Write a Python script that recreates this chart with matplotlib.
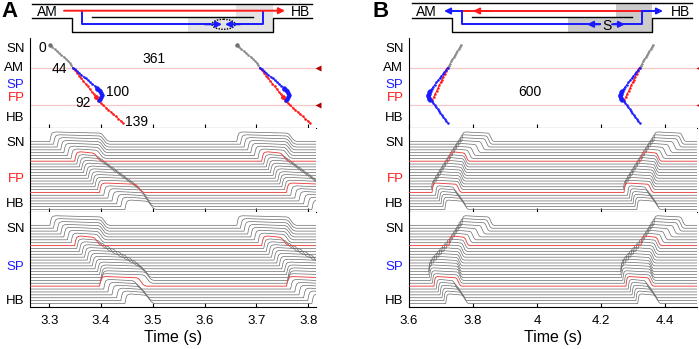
import numpy as np
import matplotlib.pyplot as plt
from matplotlib.patches import Ellipse, Polygon

plt.rcParams['font.family'] = ['Liberation Sans', 'DejaVu Sans']

# cycle lengths (s) written in the panels
cycle_a = 0.361
cycle_b = 0.600

# ---- activation maps (time in s, position along the path, 0 = top) ----
# panel A, first beat
gray_t_a = [3.3013, 3.3057, 3.3101, 3.3146, 3.3190, 3.3234, 3.3279, 3.3323, 3.3367, 3.3395, 3.3425, 3.3453]
gray_p_a = [7.3, 9.3, 11.2, 13.2, 15.2, 17.1, 19.1, 21.0, 23.0, 25.0, 27.3, 29.7]
red1_t_a = [3.3453, 3.3494, 3.3535, 3.3576, 3.3617, 3.3658, 3.3699, 3.3740, 3.3781, 3.3822, 3.3863, 3.3903]
red1_p_a = [29.7, 32.4, 35.0, 37.7, 40.4, 43.0, 45.7, 48.4, 51.0, 53.7, 56.3, 59.0]
red2_t_a = [3.3903, 3.3948, 3.3996, 3.4044, 3.4092, 3.4140, 3.4188, 3.4236, 3.4284, 3.4332, 3.4380, 3.4431]
red2_p_a = [59.0, 63.0, 65.2, 67.4, 69.6, 71.8, 74.0, 76.2, 78.4, 80.6, 82.8, 85.3]
blue1_t_a = [3.3453, 3.3495, 3.3537, 3.3579, 3.3621, 3.3663, 3.3705, 3.3747, 3.3789, 3.3831, 3.3873, 3.3917]
blue1_p_a = [29.7, 31.5, 33.3, 35.1, 36.9, 38.7, 40.5, 42.3, 44.1, 45.9, 47.8, 49.7]
blue2_t_a = [3.3917, 3.3929, 3.3955, 3.3981, 3.4000, 3.4013, 3.4006, 3.3981, 3.3961]
blue2_p_a = [49.7, 50.7, 52.0, 53.3, 55.3, 57.3, 59.0, 60.7, 62.0]

# panel B, first beat
gray_t_b = [3.7625, 3.7587, 3.7549, 3.7511, 3.7473, 3.7435, 3.7397, 3.7359, 3.7321, 3.7284, 3.7246, 3.7209]
gray_p_b = [7.0, 9.1, 11.1, 13.2, 15.3, 17.3, 19.4, 21.5, 23.5, 25.6, 27.6, 29.7]
red_t_b = [3.7190, 3.7150, 3.7110, 3.7070, 3.7030, 3.6990, 3.6947, 3.6903, 3.6860, 3.6816, 3.6773, 3.6729]
red_p_b = [30.5, 33.3, 36.1, 38.9, 41.7, 44.4, 47.3, 50.3, 53.2, 56.1, 59.1, 62.0]
blue1_t_b = [3.7209, 3.7159, 3.7109, 3.7059, 3.7009, 3.6959, 3.6909, 3.6859, 3.6809, 3.6759, 3.6709, 3.6656]
blue1_p_b = [29.7, 31.8, 33.9, 36.0, 38.1, 40.2, 42.4, 44.5, 46.6, 48.7, 50.8, 53.0]
blue2_t_b = [3.6656, 3.6640, 3.6620, 3.6606, 3.6604, 3.6615, 3.6640, 3.6670]
blue2_p_b = [53.0, 54.3, 55.7, 57.0, 58.3, 59.7, 61.0, 62.3]
blue3_t_b = [3.6670, 3.6710, 3.6755, 3.6800, 3.6846, 3.6891, 3.6937, 3.6982, 3.7028, 3.7073, 3.7119, 3.7164, 3.7209]
blue3_p_b = [62.3, 63.0, 65.0, 67.1, 69.1, 71.1, 73.2, 75.2, 77.2, 79.2, 81.3, 83.3, 85.3]

map_labels = ['SN', 'AM', 'SP', 'FP', 'HB']
map_label_pos = [9.7, 28.5, 45.0, 58.6, 78.5]
marker_lines = [30.0, 67.0]

# ---- electrograms: activation / repolarisation time of each trace (s) ----
fp_act_a = [3.301, 3.308, 3.315, 3.322, 3.328, 3.335, 3.342, 3.349, 3.353, 3.358, 3.362, 3.366, 3.371,
            3.375, 3.380, 3.384, 3.388, 3.393, 3.397, 3.405, 3.413, 3.421, 3.430, 3.438, 3.446]
fp_rep_a = [3.407, 3.406, 3.405, 3.404, 3.403, 3.401, 3.399, 3.393, 3.400, 3.408, 3.415, 3.422, 3.430,
            3.437, 3.445, 3.452, 3.460, 3.467, 3.474, 3.479, 3.483, 3.487, 3.490, 3.494, 3.497]
sp_act_a = [3.301, 3.308, 3.315, 3.322, 3.328, 3.335, 3.342, 3.349, 3.353, 3.358, 3.363, 3.368, 3.373, 3.378,
            3.383, 3.388, 3.393, 3.397, 3.400, 3.401, 3.398, 3.397, 3.405, 3.413, 3.421, 3.430, 3.438, 3.446]
sp_rep_a = [3.407, 3.406, 3.405, 3.404, 3.403, 3.401, 3.399, 3.393, 3.401, 3.410, 3.420, 3.431, 3.442, 3.452,
            3.462, 3.471, 3.478, 3.484, 3.489, 3.492, 3.490, 3.478, 3.470, 3.476, 3.481, 3.486, 3.490, 3.494]
fp_act_b = [3.765, 3.759, 3.753, 3.747, 3.742, 3.736, 3.730, 3.725, 3.719, 3.713, 3.708, 3.702, 3.697,
            3.691, 3.686, 3.680, 3.675, 3.670, 3.672, 3.683, 3.689, 3.695, 3.700, 3.706, 3.712]
fp_rep_b = [3.856, 3.850, 3.843, 3.830, 3.815, 3.800, 3.790, 3.780, 3.778, 3.776, 3.774, 3.772, 3.770,
            3.768, 3.766, 3.764, 3.762, 3.760, 3.755, 3.745, 3.752, 3.759, 3.765, 3.771, 3.777]
sp_act_b = [3.765, 3.759, 3.753, 3.747, 3.742, 3.736, 3.730, 3.725, 3.717, 3.709, 3.701, 3.693, 3.685, 3.677,
            3.669, 3.663, 3.661, 3.662, 3.664, 3.668, 3.673, 3.678, 3.685, 3.691, 3.697, 3.703, 3.709, 3.715]
sp_rep_b = [3.856, 3.850, 3.843, 3.830, 3.815, 3.800, 3.790, 3.780, 3.776, 3.772, 3.768, 3.765, 3.762, 3.760,
            3.758, 3.757, 3.757, 3.758, 3.759, 3.760, 3.758, 3.755, 3.745, 3.752, 3.759, 3.765, 3.771, 3.777]
fp_red = [7, 18]
sp_red = [7, 21]
fp_labels = ['SN', 'FP', 'HB']
fp_label_pos = [0.0, -12.6, -21.4]
sp_labels = ['SN', 'SP', 'HB']
sp_label_pos = [-0.9, -13.7, -25.5]

# action potential shape (offsets in s, normalised amplitude)
up_dt = [0.0, 0.002, 0.004, 0.007, 0.012]
up_v = [0.0, 0.55, 0.85, 0.96, 1.0]
down_dt = [-0.010, -0.006, -0.003, 0.0, 0.003, 0.006, 0.010]
down_v = [0.88, 0.80, 0.62, 0.40, 0.18, 0.06, 0.0]

BLUE = '#1a1aff'
RED = '#ff1a1a'
GRAY = '#6a6a6a'

fig = plt.figure(figsize=(6.99, 3.49), dpi=100)
W, H = 699.0, 349.0


def axes_px(x0, x1, y0, y1):
    return fig.add_axes([x0 / W, 1 - y1 / H, (x1 - x0) / W, (y1 - y0) / H])


def style(ax, xticks, last=False):
    for s in ['top', 'right']:
        ax.spines[s].set_visible(False)
    ax.spines['left'].set_linewidth(0.8)
    ax.spines['bottom'].set_linewidth(0.8)
    ax.set_xticks(xticks)
    ax.tick_params(axis='x', direction='in', length=3, width=0.8, labelsize=9.5, pad=6,
                   labelbottom=last)
    ax.tick_params(axis='y', length=0, pad=4, labelsize=9.5)


def color_labels(ax):
    for lab in ax.get_yticklabels():
        if lab.get_text() == 'SP':
            lab.set_color(BLUE)
        elif lab.get_text() == 'FP':
            lab.set_color(RED)


def act_map(ax, branches, beats, xlim, xticks):
    for m in marker_lines:
        ax.axhline(m, color='#f7c6c6', lw=0.9, zorder=0)
        ax.plot(1.006, m, marker='<', color='#b00000', ms=5, mec='none',
                transform=ax.get_yaxis_transform(), clip_on=False)
    for b in beats:
        for t, p, c, ms in branches:
            ax.plot(np.array(t) + b, p, '-o', color=c, lw=0.7, ms=ms, mec='none')
    ax.set_xlim(*xlim)
    ax.set_ylim(90, 0)
    ax.set_yticks(map_label_pos)
    ax.set_yticklabels(map_labels)
    style(ax, xticks)
    color_labels(ax)


def traces(ax, act, rep, red, beats, xlim, xticks, ylim, labels, label_pos, last=False):
    amp = 3.3
    order = [i for i in range(len(act)) if i not in red] + red
    for i in order:
        t = [xlim[0] - 0.1]
        v = [0.0]
        for b in beats:
            t += [act[i] + b + d for d in up_dt]
            v += up_v
            t += [rep[i] + b + d for d in down_dt]
            v += down_v
        t.append(xlim[1] + 0.1)
        v.append(0.0)
        red_tr = i in red
        ax.plot(t, -i + amp * np.array(v), color='#e8403f' if red_tr else GRAY,
                lw=0.65 if red_tr else 0.5, zorder=3 if red_tr else 2)
    ax.set_xlim(*xlim)
    ax.set_ylim(*ylim)
    ax.set_yticks(label_pos)
    ax.set_yticklabels(labels)
    style(ax, xticks, last)
    color_labels(ax)
    if last:
        ax.set_xlabel('Time (s)', fontsize=11.5, labelpad=2)


# ---------------- panel A ----------------
xl_a = (3.2627, 3.815)
xt_a = [3.3, 3.4, 3.5, 3.6, 3.7, 3.8]
ax = axes_px(30, 316, 38, 128)
act_map(ax, [(gray_t_a, gray_p_a, '#8a8a8a', 1.8),
             (red1_t_a, red1_p_a, RED, 1.8), (red2_t_a, red2_p_a, RED, 1.8),
             (blue1_t_a, blue1_p_a, BLUE, 1.8), (blue2_t_a, blue2_p_a, BLUE, 3.2)],
        [0, cycle_a], xl_a, xt_a)
ax.plot([gray_t_a[0], gray_t_a[0] + cycle_a], [gray_p_a[0]] * 2, 'o', color='#707070', ms=3.2, mec='none')
ax.plot([red1_t_a[-1], red1_t_a[-1] + cycle_a], [red1_p_a[-1]] * 2, 'o', color=RED, ms=3.5, mec='none')
for s, x, y in [('0', 3.2872, 10.3), ('44', 3.3188, 31.0), ('100', 3.431, 53.7),
                ('92', 3.3646, 65.3), ('139', 3.469, 83.7), ('361', 3.5025, 21.0)]:
    ax.text(x, y, s, fontsize=10, ha='center', va='center')

traces(axes_px(30, 316, 128, 212), fp_act_a, fp_rep_a, fp_red, [0, cycle_a], xl_a, xt_a,
       (-24.9, 4.7), fp_labels, fp_label_pos)
traces(axes_px(30, 316, 212, 307), sp_act_a, sp_rep_a, sp_red, [0, cycle_a], xl_a, xt_a,
       (-28.2, 4.6), sp_labels, sp_label_pos, last=True)

# ---------------- panel B ----------------
xl_b = (3.6, 4.5)
xt_b = [3.6, 3.8, 4.0, 4.2, 4.4]
ax = axes_px(409, 697, 38, 128)
act_map(ax, [(gray_t_b, gray_p_b, '#8a8a8a', 1.8),
             (red_t_b, red_p_b, RED, 1.8),
             (blue1_t_b, blue1_p_b, BLUE, 1.8), (blue2_t_b, blue2_p_b, BLUE, 3.2),
             (blue3_t_b, blue3_p_b, BLUE, 1.8)],
        [0, cycle_b], xl_b, xt_b)
ax.text(3.978, 54, '600', fontsize=10, ha='center', va='center')

traces(axes_px(409, 697, 128, 212), fp_act_b, fp_rep_b, fp_red, [0, cycle_b], xl_b, xt_b,
       (-24.9, 4.7), fp_labels, fp_label_pos)
ax = axes_px(409, 697, 212, 307)
traces(ax, sp_act_b, sp_rep_b, sp_red, [0, cycle_b], xl_b, xt_b,
       (-28.2, 4.6), sp_labels, sp_label_pos, last=True)
ax.set_xticklabels(['3.6', '3.8', '4', '4.2', '4.4'])

# ---------------- schematics ----------------
sk = fig.add_axes([0, 0, 1, 1])
sk.set_xlim(0, W)
sk.set_ylim(H, 0)
sk.axis('off')


def arrow(x0, y0, x1, y1, c):
    sk.annotate('', xy=(x1, y1), xytext=(x0, y0),
                arrowprops=dict(arrowstyle='-|>', color=c, lw=1.4, mutation_scale=9,
                                shrinkA=0, shrinkB=0))


# A
sk.add_patch(Polygon([(236, 4.3), (273, 4.3), (273, 31.7), (188, 31.7), (188, 17.7), (236, 17.7)],
                     closed=True, color='#e4e4e4', lw=0))
sk.plot([32, 312], [4.3, 4.3], color='k', lw=1.0)
sk.plot([32, 72, 72, 273, 273, 312], [17.7, 17.7, 31.7, 31.7, 17.7, 17.7], color='k', lw=1.0)
sk.plot([92, 253], [17.3, 17.3], color='k', lw=1.0)
arrow(64, 10.7, 285, 10.7, RED)
sk.plot([82, 82, 210], [10.7, 24.3, 24.3], color=BLUE, lw=1.4)
arrow(205, 24.3, 222, 24.3, BLUE)
sk.plot([263, 263, 235], [10.7, 24.3, 24.3], color=BLUE, lw=1.4)
arrow(240, 24.3, 225, 24.3, BLUE)
sk.add_patch(Ellipse((223.5, 24.3), 23, 10, fill=False, ls=(0, (1, 1)), lw=1.0, color='k'))
sk.text(47, 12.5, 'AM', fontsize=10, ha='center', va='center')
sk.text(300, 12.5, 'HB', fontsize=10, ha='center', va='center')

# B
sk.add_patch(Polygon([(616, 3.3), (651.7, 3.3), (651.7, 31.7), (568, 31.7), (568, 18.3), (616, 18.3)],
                     closed=True, color='#cbcbcb', lw=0))
sk.plot([411.7, 691.7], [3.3, 3.3], color='k', lw=1.0)
sk.plot([411.7, 451.7, 451.7, 651.7, 651.7, 691.7], [18.3, 18.3, 31.7, 31.7, 18.3, 18.3], color='k', lw=1.0)
sk.plot([471.7, 631.7], [17.3, 17.3], color='k', lw=1.0)
sk.plot([461.7, 641.7], [11, 11], color=RED, lw=1.4)
arrow(490, 11, 473, 11, RED)
arrow(461.7, 11, 444, 11, BLUE)
sk.plot([461.7, 461.7, 600], [11, 24.3, 24.3], color=BLUE, lw=1.4)
arrow(600, 24.3, 587, 24.3, BLUE)
sk.plot([614, 641.7, 641.7, 650], [24.3, 24.3, 11, 11], color=BLUE, lw=1.4)
arrow(612, 24.3, 625, 24.3, BLUE)
arrow(641.7, 11, 663, 11, BLUE)
sk.text(606.5, 25.5, 'S', fontsize=10, ha='center', va='center')
sk.text(426, 12.5, 'AM', fontsize=10, ha='center', va='center')
sk.text(680, 12.5, 'HB', fontsize=10, ha='center', va='center')

fig.text(1 / W, 1 - 1 / H, 'A', fontsize=16, fontweight='bold', ha='left', va='top')
fig.text(372 / W, 1 - 1 / H, 'B', fontsize=16, fontweight='bold', ha='left', va='top')

fig.savefig('out.png', dpi=100)
